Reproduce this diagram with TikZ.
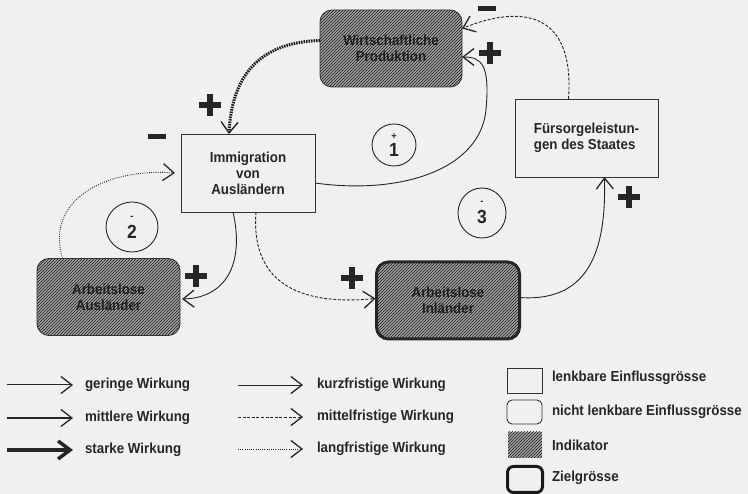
\documentclass[tikz,border=0pt]{standalone}
\usepackage{fontspec}
\setmainfont{Liberation Sans}[FakeStretch=0.92]
\usetikzlibrary{arrows.meta,patterns,shapes.geometric,calc}
\begin{document}
\begin{tikzpicture}[x=1pt,y=-1pt,
  every node/.style={font=\bfseries\fontsize{14.5}{16}\selectfont, inner sep=0pt, outer sep=0pt, text=black!85},
  plainbox/.style={draw=black!80, line width=0.9pt, minimum width=134pt, minimum height=78pt, align=center},
  hatchbox/.style={draw=black!80, line width=0.9pt, rounded corners=12pt, minimum width=143pt, minimum height=77pt,
     align=center, preaction={fill=black!36}, pattern=north east lines, pattern color=black!90, text=black!88},
  loopcircle/.style={ellipse, draw=black!85, line width=0.9pt, align=center},
  pluss/.style={minimum width=22pt, minimum height=22pt, path picture={
     \fill[black!85] ([xshift=-11pt,yshift=-3pt]path picture bounding box.center) rectangle ++(22pt,6pt);
     \fill[black!85] ([xshift=-3pt,yshift=-11pt]path picture bounding box.center) rectangle ++(6pt,22pt);}},
  minuss/.style={fill=black!85, minimum width=18pt, minimum height=5pt},
  tipthin/.style={-{Straight Barb[length=11pt,width=17pt,line width=1.3pt 0]}},
  kurz/.style={draw=black!85, line width=0.9pt, tipthin},
  mittel/.style={draw=black!85, line width=0.9pt, dash pattern=on 3pt off 1.6pt, tipthin},
  lang/.style={draw=black!85, line width=0.9pt, dash pattern=on 0.9pt off 1.3pt, tipthin},
  legtext/.style={anchor=west}
]
% background
\fill[black!6] (0,0) rectangle (748,494);

% boxes
\node[hatchbox, minimum width=142pt] (wp) at (391,48.5) {Wirtschaftliche\\Produktion};
\node[plainbox] (imm) at (248,173) {Immigration\\von\\Ausländern};
\node[plainbox, minimum width=143pt, align=left] (fs) at (586.5,138) {Fürsorgeleistun-\\gen des Staates};
\node[hatchbox] (aa) at (108.5,297) {Arbeitslose\\Ausländer};
\node[hatchbox, line width=3pt, draw=black!85] (ai) at (448,300.5) {Arbeitslose\\Inländer};

% loop circles
\node[loopcircle, minimum width=44pt, minimum height=42pt] (c1) at (394,145) {{\fontsize{10}{10}\selectfont +}\\[1pt]{\fontsize{19}{19}\selectfont 1}};
\node[loopcircle, minimum width=52pt, minimum height=50pt] (c2) at (132,227) {{\fontsize{10}{10}\selectfont -}\\[3pt]{\fontsize{19}{19}\selectfont 2}};
\node[loopcircle, minimum width=48pt, minimum height=50pt] (c3) at (482,213) {{\fontsize{10}{10}\selectfont -}\\[3pt]{\fontsize{19}{19}\selectfont 3}};

% connectors
\draw[lang, line width=3pt, dash pattern=on 1.5pt off 1pt, draw=black!90] ($(wp.west)+(0,-8)$) .. controls (265,42) and (232,70) .. ($(imm.north)+(-19,0)$);
\draw[mittel] ($(fs.north)+(-18,0)$) .. controls (575,10) and (520,5) .. ($(wp.east)+(0,-20)$);
\draw[kurz] ($(imm.east)+(0,10)$) .. controls (400,195) and (480,170) .. (486,110) .. controls (490,65) and (482,57) .. ($(wp.east)+(0,8.5)$);
\draw[lang] ($(aa.north)+(-46,0)$) .. controls (45,200) and (105,168) .. ($(imm.west)+(-6,0)$);
\draw[kurz] ($(imm.south)+(-15,0)$) .. controls (245,265) and (225,298) .. ($(aa.east)+(2,2)$);
\draw[mittel] ($(imm.south)+(8,0)$) .. controls (250,290) and (310,305) .. ($(ai.west)+(-1,-2)$);
\draw[kurz] ($(ai.east)+(0,-3)$) .. controls (595,303) and (606,240) .. ($(fs.south)+(18,0)$);

% signs
\node[minuss] (s1) at (487,9) {};
\node[pluss] (s2) at (490,53) {};
\node[pluss] (s3) at (210,105) {};
\node[minuss] (s4) at (157,137) {};
\node[pluss] (s5) at (196,276) {};
\node[pluss] (s6) at (352,278) {};
\node[pluss] (s7) at (629,197) {};

% legend: strength
\coordinate (la1) at (7,385);  \coordinate (lb1) at (73,385);
\coordinate (la2) at (7,418);  \coordinate (lb2) at (73,418);
\coordinate (la3) at (7,450);  \coordinate (lb3) at (73,450);
\draw[kurz, line width=1pt] (la1) -- (lb1);
\draw[kurz, line width=2pt] (la2) -- (lb2);
\draw[draw=black!85, line width=4.5pt, -{Straight Barb[length=12pt,width=18pt,line width=3.5pt 0]}] (la3) -- (lb3);
\node[legtext] (t1) at (85,385) {geringe Wirkung};
\node[legtext] (t2) at (85,418) {mittlere Wirkung};
\node[legtext] (t3) at (85,450) {starke Wirkung};

% legend: time
\coordinate (ma1) at (238,385);  \coordinate (mb1) at (303,385);
\coordinate (ma2) at (238,417);  \coordinate (mb2) at (303,417);
\coordinate (ma3) at (238,449);  \coordinate (mb3) at (303,449);
\draw[kurz] (ma1) -- (mb1);
\draw[mittel] (ma2) -- (mb2);
\draw[lang] (ma3) -- (mb3);
\node[legtext] (t4) at (317,385) {kurzfristige Wirkung};
\node[legtext] (t5) at (317,417) {mittelfristige Wirkung};
\node[legtext] (t6) at (317,449) {langfristige Wirkung};

% legend: boxes
\node[draw=black!80, line width=0.9pt, minimum width=35pt, minimum height=25pt] (k1) at (524.5,380.5) {};
\node[draw=black!80, line width=0.9pt, rounded corners=5pt, minimum width=35pt, minimum height=24pt] (k2) at (524.5,412) {};
\node[preaction={fill=black!36}, pattern=north east lines, pattern color=black!90, minimum width=34pt, minimum height=26pt] (k3) at (525,445) {};
\node[draw=black!90, line width=3pt, rounded corners=6pt, minimum width=35pt, minimum height=26pt] (k4) at (525,479.5) {};
\node[legtext] (t7) at (552,378) {lenkbare Einflussgrösse};
\node[legtext] (t8) at (552,412) {nicht lenkbare Einflussgrösse};
\node[legtext] (t9) at (552,445) {Indikator};
\node[legtext] (t10) at (552,478) {Zielgrösse};
\end{tikzpicture}
\end{document}
